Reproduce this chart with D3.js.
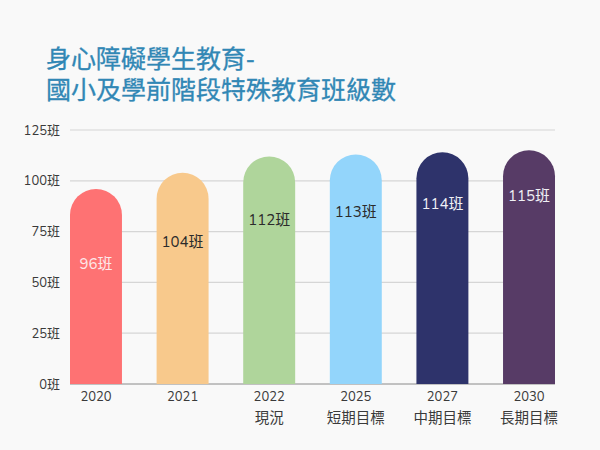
<!DOCTYPE html>
<html><head><meta charset="utf-8">
<script src="https://cdn.jsdelivr.net/npm/d3@7"></script>
<style>html,body{margin:0;padding:0;background:#f9f9f9;}svg{display:block;}</style>
</head><body>
<script>
const years = ["2020","2021","2022","2025","2027","2030"];
const subLabels = ["","","現況","短期目標","中期目標","長期目標"];
const values = [96,104,112,113,114,115];
const colors = ["#fe7273","#f8c98c","#afd59b","#93d5fb","#2e336b","#573b66"];
const labelColors = ["#fde8ea","#2b2b2b","#2b2b2b","#2b2b2b","#f0f0f5","#f0f0f5"];
const yTicks = [0,25,50,75,100,125];
const titleLines = ["身心障礙學生教育-","國小及學前階段特殊教育班級數"];

const W=600,H=450;
const svg=d3.select("body").append("svg").attr("width",W).attr("height",H);
svg.append("rect").attr("width",W).attr("height",H).attr("fill","#f9f9f9");
const font="'Noto Sans CJK TC','Noto Sans',sans-serif";
const numFont="'Nunito','Open Sans','Noto Sans CJK TC',sans-serif";

svg.append("g").selectAll("text").data(titleLines).join("text")
  .attr("x",46).attr("y",(d,i)=>68+i*31)
  .attr("font-family",font).attr("font-size",25).attr("fill","#3187b5")
  .attr("stroke","#3187b5").attr("stroke-width",0.3)
  .text(d=>d);

const x=d3.scaleBand().domain(years).range([70,555]).paddingInner(0.4).paddingOuter(0);
const y=d3.scaleLinear().domain([0,125]).range([384,130]);

// grid
svg.append("g").selectAll("line").data(yTicks.filter(t=>t>0)).join("line")
  .attr("x1",70).attr("x2",555).attr("y1",d=>y(d)).attr("y2",d=>y(d))
  .attr("stroke","#d6d6d6").attr("stroke-width",1.2);
svg.append("line").attr("x1",70).attr("x2",555).attr("y1",y(0)).attr("y2",y(0))
  .attr("stroke","#8a8a8a").attr("stroke-width",1);

// y tick labels
svg.append("g").selectAll("text").data(yTicks).join("text")
  .attr("x",60).attr("y",d=>y(d)+4.5).attr("text-anchor","end")
  .attr("font-family",numFont).attr("font-size",13).attr("fill","#3a3a3a")
  .text(d=>d+"班");

// bars with rounded top
const bw=x.bandwidth(), r=bw/2;
svg.append("g").selectAll("path").data(values).join("path")
  .attr("d",(v,i)=>{
    const x0=x(years[i]), top=y(v), b=y(0);
    return `M${x0},${b}L${x0},${top+r}A${r},${r} 0 0 1 ${x0+bw},${top+r}L${x0+bw},${b}Z`;
  })
  .attr("fill",(v,i)=>colors[i]);

// value labels
svg.append("g").selectAll("text").data(values).join("text")
  .attr("x",(v,i)=>x(years[i])+bw/2)
  .attr("y",(v,i)=>y(v)+80-5.8*i)
  .attr("text-anchor","middle")
  .attr("font-family",numFont).attr("font-size",15).attr("fill",(v,i)=>labelColors[i])
  .text(v=>v+"班");

// x labels
svg.append("g").selectAll("text").data(years).join("text")
  .attr("x",d=>x(d)+bw/2).attr("y",401).attr("text-anchor","middle")
  .attr("font-family",numFont).attr("font-size",13).attr("fill","#3a3a3a")
  .text(d=>d);
svg.append("g").selectAll("text").data(subLabels).join("text")
  .attr("x",(d,i)=>x(years[i])+bw/2).attr("y",423).attr("text-anchor","middle")
  .attr("font-family",font).attr("font-size",14.5).attr("fill","#3a3a3a")
  .text(d=>d);
</script>
</body></html>
